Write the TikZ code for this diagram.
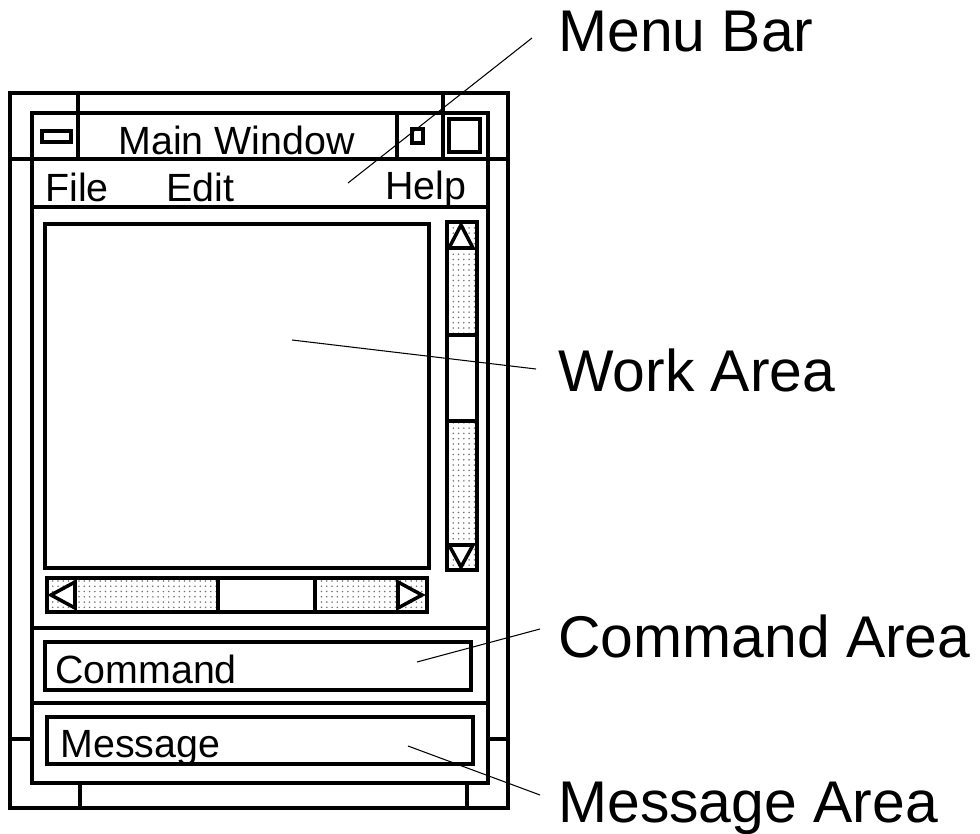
\documentclass[tikz,border=0pt]{standalone}
\usepackage{fontspec}
\setmainfont{Liberation Sans}
\usepackage{tikz}
\usetikzlibrary{patterns}

\begin{document}
\begin{tikzpicture}[
    x=0.02cm, y=-0.02cm,
    frameline/.style={line width=2.2pt},
    boxline/.style={line width=2pt},
    leader/.style={line width=0.6pt},
    dotfill/.style={pattern=dots, pattern color=black!55},
    uitext/.style={anchor=base west, inner sep=0pt, font=\fontsize{22.4}{26}\selectfont},
    callout/.style={anchor=base west, inner sep=0pt, font=\fontsize{33.5}{40}\selectfont}
  ]
    \useasboundingbox (0,0) rectangle (980,834);

    \draw[frameline] (10,93) rectangle (508,808);
    \draw[frameline] (32,113) rectangle (488,783);
    \draw[frameline] (10,159) -- (508,159);
    \draw[frameline] (78,93) -- (78,159);
    \draw[frameline] (443,93) -- (443,159);
    \draw[frameline] (397,113) -- (397,159);
    \draw[frameline] (10,739) -- (32,739);
    \draw[frameline] (488,739) -- (508,739);
    \draw[frameline] (80,783) -- (80,808);
    \draw[frameline] (467,783) -- (467,808);

    \draw[boxline] (42,131) rectangle (71,142);
    \draw[boxline] (412,129) rectangle (423,143);
    \draw[boxline] (449,119) rectangle (480,152);
    \node[uitext] (title) at (118,155) {Main Window};

    \draw[frameline] (32,207) -- (488,207);
    \node[uitext] (file) at (45,202) {File};
    \node[uitext] (edit) at (166,202) {Edit};
    \node[uitext] (help) at (385,200) {Help};

    \draw[frameline] (45,224) rectangle (429,568);

    \path[dotfill] (447,222) rectangle (477,570);
    \fill[white] (447,335) rectangle (477,421);
    \draw[boxline] (447,222) rectangle (477,570);
    \draw[boxline] (447,335) -- (477,335) (447,421) -- (477,421);
    \draw[boxline, fill=white] (449,248) -- (461,225) -- (473,248) -- cycle;
    \draw[boxline, fill=white] (449,545) -- (461,567) -- (473,545) -- cycle;

    \path[dotfill] (47,578) rectangle (427,612);
    \draw[boxline, fill=white] (218,578) rectangle (315,612);
    \draw[boxline] (47,578) rectangle (427,612);
    \draw[boxline, fill=white] (75,582) -- (51,595) -- (75,608) -- cycle;
    \draw[boxline, fill=white] (398,582) -- (422,595) -- (398,608) -- cycle;

    \draw[frameline] (32,628) -- (488,628);
    \draw[boxline] (45,642) rectangle (471,690);
    \node[uitext] (command) at (55,683) {Command};

    \draw[frameline] (32,703) -- (488,703);
    \draw[boxline] (47,717) rectangle (473,764);
    \node[uitext] (message) at (60,757) {Message};

    \node[callout] (menubar) at (558,52) {Menu Bar};
    \node[callout] (workarea) at (558,391) {Work Area};
    \node[callout] (cmdarea) at (558,657) {Command Area};
    \node[callout] (msgarea) at (558,822) {Message Area};

    \coordinate (menubarpt) at (348,183);
    \coordinate (menubarend) at (532,38);
    \coordinate (workareapt) at (292,340);
    \coordinate (workareaend) at (536,369);
    \coordinate (cmdareapt) at (417,662);
    \coordinate (cmdareaend) at (540,629);
    \coordinate (msgareapt) at (408,746);
    \coordinate (msgareaend) at (540,795);

    \draw[leader] (menubarpt) -- (menubarend);
    \draw[leader] (workareapt) -- (workareaend);
    \draw[leader] (cmdareapt) -- (cmdareaend);
    \draw[leader] (msgareapt) -- (msgareaend);
  \end{tikzpicture}
\end{document}
